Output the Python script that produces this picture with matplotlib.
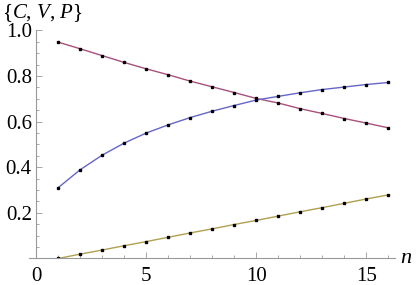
import matplotlib.pyplot as plt
import numpy as np

# data
n = list(range(1, 17))
C = [0.949, 0.920, 0.890, 0.860, 0.832, 0.806, 0.778, 0.753,
     0.728, 0.702, 0.682, 0.657, 0.636, 0.614, 0.594, 0.573]
V = [0.310, 0.389, 0.453, 0.506, 0.550, 0.586, 0.618, 0.646,
     0.671, 0.695, 0.711, 0.727, 0.741, 0.752, 0.763, 0.772]
P = [0.000, 0.019, 0.037, 0.056, 0.074, 0.093, 0.112, 0.130,
     0.149, 0.167, 0.186, 0.205, 0.223, 0.242, 0.261, 0.279]

plt.rcParams['font.family'] = 'serif'
plt.rcParams['font.serif'] = ['Liberation Serif', 'DejaVu Serif']
plt.rcParams['mathtext.fontset'] = 'custom'
plt.rcParams['mathtext.rm'] = 'Liberation Serif'
plt.rcParams['mathtext.it'] = 'Liberation Serif:italic'

fig = plt.figure(figsize=(4.17, 2.85), dpi=100)
ax = fig.add_axes([0.0695, 0.093, 0.8775, 0.8])

ax.plot(n, C, color='#a8507c', lw=1)
ax.plot(n, V, color='#6666c8', lw=1)
ax.plot(n, P, color='#b0a050', lw=1)
for s in (C, V, P):
    ax.plot(n, s, 's', color='black', ms=1.8, lw=0)

ax.set_xlim(-0.32, 16.3)
ax.set_ylim(0, 1.0)

ax.spines['top'].set_visible(False)
ax.spines['right'].set_visible(False)
ax.spines['left'].set_position(('data', 0))
ax.spines['bottom'].set_position(('data', 0))
for sp in ('left', 'bottom'):
    ax.spines[sp].set_color('#999999')
    ax.spines[sp].set_linewidth(0.8)

ax.set_xticks([0, 5, 10, 15])
ax.set_xticklabels(['0', '5', '10', '15'], fontfamily='Liberation Serif')
ax.set_xticks(range(1, 17), minor=True)
ax.set_yticks([0.2, 0.4, 0.6, 0.8, 1.0])
ax.set_yticklabels(['0.2', '0.4', '0.6', '0.8', '1.0'], fontfamily='Liberation Serif')
ax.set_yticks(np.arange(0.05, 1.0, 0.05), minor=True)
ax.tick_params(which='both', direction='in', color='#999999', labelsize=15, width=0.6)
ax.tick_params(which='major', length=4)
ax.tick_params(which='minor', length=2)
ax.tick_params(axis='x', pad=6)
ax.tick_params(axis='y', pad=3)

fig.text(0.005, 0.955, '{$C$, $V$, $P$}', fontsize=15, ha='left', va='center')
fig.text(0.974, 0.093, '$n$', fontsize=16, ha='center', va='center')

fig.savefig('out.png', dpi=100)
